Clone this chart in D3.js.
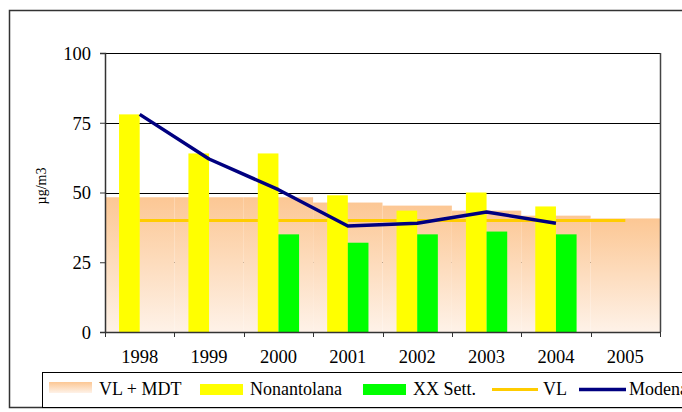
<!DOCTYPE html>
<html>
<head>
<meta charset="utf-8">
<script src="https://cdn.jsdelivr.net/npm/d3@7"></script>
<style>
    body { margin: 0; background: #fff; overflow: hidden; }
</style>
</head>
<body>
<div id="chart"></div>
<script>
// Data
const years = ['1998', '1999', '2000', '2001', '2002', '2003', '2004', '2005'];
const vlMdt = [48.3, 48.3, 48.3, 46.4, 45.3, 43.5, 41.7, 40.7];
const nonantolana = [78, 64, 64, 49, 43.5, 50, 45, null];
const xxSett = [null, null, 35, 32, 35, 36, 35, null];
const vl = [40, 40, 40, 40, 40, 40, 40, 40];
const modena = [78, 62, 51, 38, 39, 43, 39, null];
const yTicks = [0, 25, 50, 75, 100];
const barSeries = ['Nonantolana', 'XX Sett.'];

const FONT = '"Liberation Serif"';
const width = 682, height = 412;
const plot = { left: 105, right: 660, top: 53, bottom: 332 };

const svg = d3.select('#chart')
    .append('svg')
    .attr('width', width)
    .attr('height', height);

// Gradient for VL + MDT
const defs = svg.append('defs');
const grad = defs.append('linearGradient')
    .attr('id', 'peach')
    .attr('x1', 0).attr('y1', 0)
    .attr('x2', 0).attr('y2', 1);
grad.append('stop').attr('offset', '0%').attr('stop-color', '#fcc794');
grad.append('stop').attr('offset', '100%').attr('stop-color', '#fef2e8');

// Outer frame
svg.append('rect')
    .attr('x', 9.5).attr('y', 10.5)
    .attr('width', 720).attr('height', 397)
    .attr('fill', 'none')
    .attr('stroke', '#333')
    .attr('stroke-width', 1.5);

// Scales
const x = d3.scaleBand()
    .domain(years)
    .range([plot.left, plot.right])
    .padding(0);

const xInner = d3.scaleBand()
    .domain(barSeries)
    .range([0, x.bandwidth()])
    .paddingInner(0)
    .paddingOuter(0.68);

const y = d3.scaleLinear()
    .domain([0, 100])
    .range([plot.bottom, plot.top]);

// Gridlines
svg.append('g')
    .selectAll('line')
    .data(yTicks.filter(d => d > 0))
    .join('line')
    .attr('x1', plot.left).attr('x2', plot.right)
    .attr('y1', d => Math.round(y(d)) + 0.5)
    .attr('y2', d => Math.round(y(d)) + 0.5)
    .attr('stroke', '#000')
    .attr('stroke-width', 1);

// VL + MDT steps (full-width bars)
svg.append('g')
    .selectAll('rect')
    .data(years.map((yr, i) => ({ year: yr, value: vlMdt[i] })))
    .join('rect')
    .attr('x', d => x(d.year))
    .attr('width', x.bandwidth())
    .attr('y', d => y(d.value))
    .attr('height', d => y(0) - y(d.value))
    .attr('fill', 'url(#peach)');

// Right border of plot area
svg.append('line')
    .attr('x1', plot.right + 0.5).attr('x2', plot.right + 0.5)
    .attr('y1', plot.top).attr('y2', plot.bottom)
    .attr('stroke', '#444')
    .attr('stroke-width', 1.5);

// VL line (behind the bars)
const line = d3.line()
    .defined(d => d.value != null)
    .x(d => x(d.year) + x.bandwidth() / 2)
    .y(d => y(d.value));

svg.append('path')
    .datum(years.map((yr, i) => ({ year: yr, value: vl[i] })))
    .attr('d', line)
    .attr('fill', 'none')
    .attr('stroke', '#ffcc00')
    .attr('stroke-width', 3);

// Clustered bars
const barColors = { 'Nonantolana': '#ffff00', 'XX Sett.': '#00ff00' };
const barData = [];
years.forEach((yr, i) => {
    if (nonantolana[i] != null) barData.push({ year: yr, series: 'Nonantolana', value: nonantolana[i] });
    if (xxSett[i] != null) barData.push({ year: yr, series: 'XX Sett.', value: xxSett[i] });
});

svg.append('g')
    .selectAll('rect')
    .data(barData)
    .join('rect')
    .attr('x', d => x(d.year) + xInner(d.series))
    .attr('width', xInner.bandwidth())
    .attr('y', d => y(d.value))
    .attr('height', d => y(0) - y(d.value))
    .attr('fill', d => barColors[d.series]);

// Modena line
svg.append('path')
    .datum(years.map((yr, i) => ({ year: yr, value: modena[i] })))
    .attr('d', line)
    .attr('fill', 'none')
    .attr('stroke', '#000080')
    .attr('stroke-width', 3.5)
    .attr('stroke-linejoin', 'round');

// Y axis
const yAxis = svg.append('g')
    .attr('transform', `translate(${plot.left},0)`)
    .call(d3.axisLeft(y).tickValues(yTicks).tickSize(5).tickPadding(9));
yAxis.select('.domain').attr('stroke', '#333').attr('stroke-width', 1.5);
yAxis.selectAll('.tick line').attr('stroke', '#333');
yAxis.selectAll('.tick text')
    .style('font-size', '18.5px')
    .style('font-family', FONT)
    .attr('fill', '#000')
    .attr('dy', '0.34em');

// X axis
const xAxis = svg.append('g')
    .attr('transform', `translate(0,${plot.bottom})`)
    .call(d3.axisBottom(x).tickSize(0).tickPadding(18));
xAxis.select('.domain').attr('stroke', '#333').attr('stroke-width', 1.5);
xAxis.selectAll('.tick text')
    .style('font-size', '18.5px')
    .style('font-family', FONT)
    .attr('fill', '#000');

// X ticks at category boundaries
const bounds = years.map(d => x(d)).concat([plot.right]);
svg.append('g')
    .selectAll('line')
    .data(bounds)
    .join('line')
    .attr('x1', d => Math.round(d) + 0.5).attr('x2', d => Math.round(d) + 0.5)
    .attr('y1', plot.bottom).attr('y2', plot.bottom + 5)
    .attr('stroke', '#333');

// Y axis title
svg.append('text')
    .attr('transform', 'translate(46,186) rotate(-90)')
    .attr('text-anchor', 'middle')
    .style('font-family', FONT)
    .style('font-size', '14px')
    .text('µg/m3');

// Legend
svg.append('rect')
    .attr('x', 42.5).attr('y', 372.5)
    .attr('width', 700).attr('height', 35)
    .attr('fill', '#fff')
    .attr('stroke', '#000');

const legend = svg.append('g');

legend.append('rect')
    .attr('x', 49).attr('y', 382).attr('width', 43).attr('height', 11)
    .attr('fill', 'url(#peach)');
legend.append('rect')
    .attr('x', 200).attr('y', 384).attr('width', 43).attr('height', 11)
    .attr('fill', barColors['Nonantolana']);
legend.append('rect')
    .attr('x', 363).attr('y', 384).attr('width', 43).attr('height', 11)
    .attr('fill', barColors['XX Sett.']);
legend.append('line')
    .attr('x1', 492).attr('x2', 538).attr('y1', 389.5).attr('y2', 389.5)
    .attr('stroke', '#ffcc00').attr('stroke-width', 3);
legend.append('line')
    .attr('x1', 579).attr('x2', 626).attr('y1', 389.5).attr('y2', 389.5)
    .attr('stroke', '#000080').attr('stroke-width', 3.5);

const legendLabels = [
    { text: 'VL + MDT', x: 99 },
    { text: 'Nonantolana', x: 250 },
    { text: 'XX Sett.', x: 413 },
    { text: 'VL', x: 543 },
    { text: 'Modena', x: 629 }
];
legend.selectAll('text')
    .data(legendLabels)
    .join('text')
    .attr('x', d => d.x)
    .attr('y', 395)
    .style('font-family', FONT)
    .style('font-size', '18px')
    .text(d => d.text);
</script>
</body>
</html>
